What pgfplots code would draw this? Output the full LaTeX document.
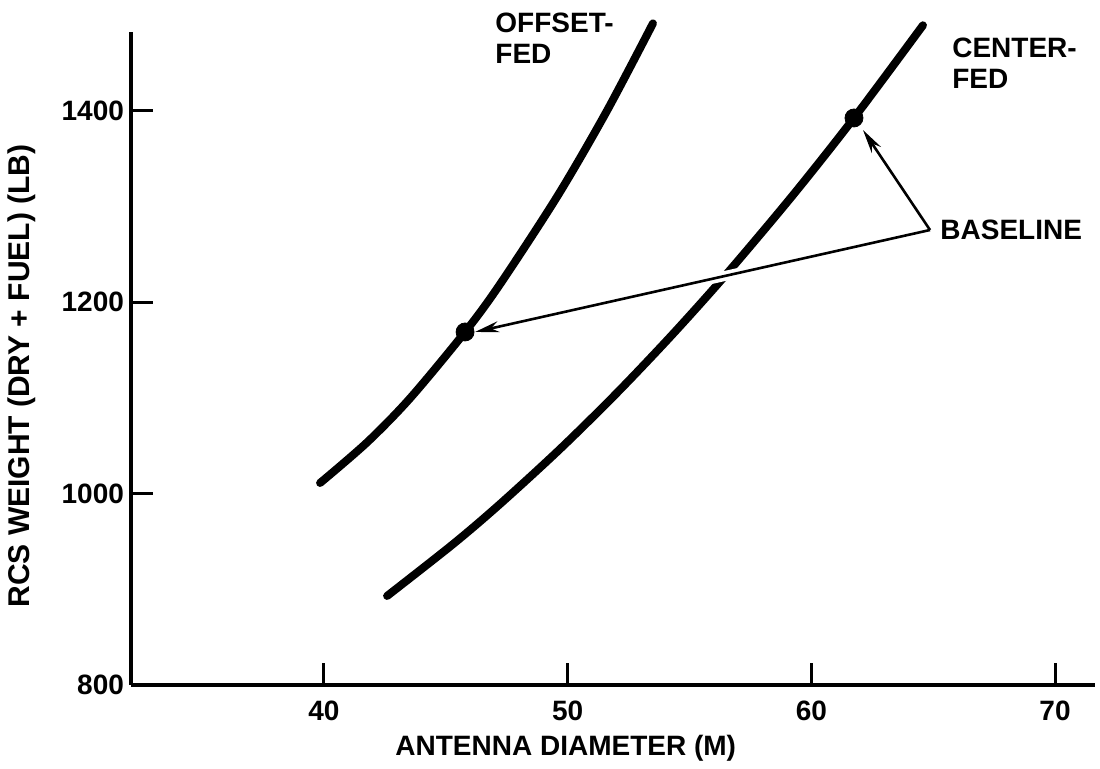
\documentclass[border=0pt]{standalone}
\usepackage{fontspec}
\setmainfont{Liberation Sans}
\usepackage{pgfplots}
\pgfplotsset{compat=1.18}
\usetikzlibrary{arrows.meta}

\begin{document}
\begin{tikzpicture}
\begin{axis}[name=ax, scale only axis, width=482pt, height=326.5pt,
  xmin=32.08, xmax=71.64, ymin=800, ymax=1482,
  axis x line=bottom, axis y line=left,
  axis line style={-, line width=2pt},
  xtick={40,50,60,70}, ytick={800,1000,1200,1400},
  tick align=inside, major tick length=11pt,
  tick style={line width=1.5pt, black},
  /pgf/number format/assume math mode=true,
  /pgf/number format/1000 sep={},
  tick label style={font=\bfseries\fontsize{14}{16}\selectfont},
  xticklabel style={yshift=-4.5pt},
  xlabel={ANTENNA DIAMETER (M)},
  ylabel={RCS WEIGHT (DRY + FUEL) (LB)},
  xlabel style={font=\bfseries\fontsize{14}{16}\selectfont, at={(axis description cs:0.451,-0.0965)}, anchor=center},
  ylabel style={font=\bfseries\fontsize{15}{17}\selectfont, at={(axis description cs:-0.113,0.473)}, anchor=center},
  clip=false]

% offset-fed
\addplot[line width=4pt, line cap=round, smooth] coordinates {
  (39.84,1011.0) (41.76,1053.2) (43.53,1099.4) (45.79,1168.7)
  (47.22,1218.4) (49.60,1311.4) (51.61,1399.6) (53.50,1491.0) };

% center-fed
\addplot[line width=4pt, line cap=round, smooth] coordinates {
  (42.59,893.0) (45.29,947.0) (47.22,988.9) (49.68,1046.3) (52.02,1105.0)
  (54.30,1166.1) (56.54,1229.8) (59.25,1311.8) (61.75,1392.2) (64.58,1489.0) };

% baseline points
\addplot[only marks, mark=*, mark size=4.5pt] coordinates {
  (45.79,1168.7) (61.75,1392.2) };

% gap in the center-fed curve where the arrow crosses it
\draw[white, line width=5pt] (axis cs:57.28,1231.9) -- (axis cs:55.84,1223.7);
\draw[line width=1.3pt, -{Stealth[length=12pt,width=5.5pt]}]
  (axis cs:64.87,1275.2) -- (axis cs:46.20,1168.7);
\draw[line width=1.3pt, -{Stealth[length=12pt,width=5.5pt]}]
  (axis cs:64.87,1275.2) -- (axis cs:62.12,1379.6);

\node[anchor=north west, align=left, inner sep=0pt, font=\bfseries\fontsize{14}{15.5}\selectfont]
  at (axis cs:47.02,1501.8) {OFFSET-\\FED};
\node[anchor=north west, align=left, inner sep=0pt, font=\bfseries\fontsize{14}{15.5}\selectfont]
  at (axis cs:65.77,1475.7) {CENTER-\\FED};
\node[anchor=west, inner sep=0pt, font=\bfseries\fontsize{14}{16}\selectfont]
  at (axis cs:65.28,1275.2) {BASELINE};
\end{axis}
\pgfresetboundingbox
\path[use as bounding box] (ax.south west) ++(-65.5pt,-42pt) rectangle ++(550pt,384.5pt);
\end{tikzpicture}
\end{document}
